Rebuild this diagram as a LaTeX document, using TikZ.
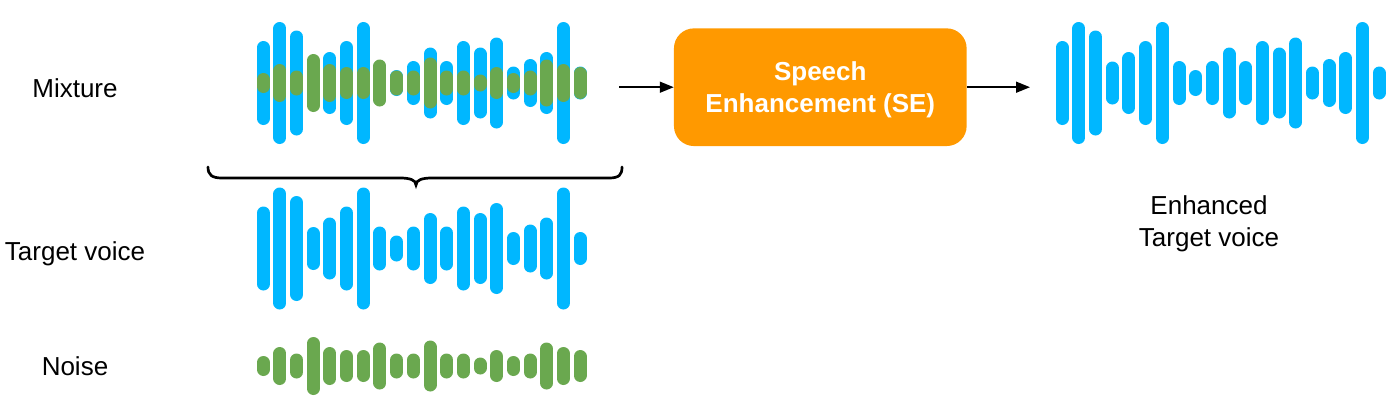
\documentclass[tikz,border=0pt]{standalone}
\usepackage{fontspec}
\setmainfont{Liberation Sans}
\usetikzlibrary{arrows.meta}
\definecolor{voiceblue}{RGB}{0,183,255}
\definecolor{noisegreen}{RGB}{106,168,79}
\definecolor{seorange}{RGB}{255,153,0}
% bar heights (px, caps included)
\newcommand{\voiceh}{84,122,105,43,62,84,122,44,26,44,71,44,84,71,91,33,48,62,122,33}
\newcommand{\noiseh}{20,38,25,58,38,32,32,47,25,25,51,25,25,17,32,20,25,47,38,32}
% #1 x of first bar, #2 y of middle, #3 heights, #4 style
\newcommand{\wave}[4]{%
  \foreach \h [count=\i from 0] in #3
    \draw[#4] ({#1+16.67*\i},{#2-(\h-13)/2}) -- ++(0,\h-13);}

\begin{document}
\begin{tikzpicture}[x=1pt,y=-1pt,
  bar/.style={line width=13pt,line cap=round},
  voicebar/.style={bar,voiceblue},
  noisebar/.style={bar,noisegreen},
  txt/.style={font=\fontsize{26}{32.4}\selectfont,inner sep=0pt},
  sebox/.style={fill=seorange,rounded corners=20pt,minimum width=292.7pt,
    minimum height=117.7pt,text=white,align=center,inner sep=0pt,text depth=0pt,
    font=\bfseries\fontsize{26}{31.7}\selectfont},
  flow/.style={line width=1.5pt,-{Triangle[length=14pt,width=11pt]}}]
\useasboundingbox (0,0) rectangle (1393,408);

\node[txt,anchor=base] (mix) at (75,97.3) {Mixture};
\node[txt,anchor=base] (target) at (75,260) {Target voice};
\node[txt,anchor=base] (noise) at (75,375) {Noise};
\node[txt,anchor=base,align=center] (enh) at (1209,246.7) {Enhanced\\Target voice};

% waveforms
\wave{263.3}{83}{\voiceh}{voicebar}
\wave{263.3}{83}{\noiseh}{noisebar}
\wave{263.3}{248.5}{\voiceh}{voicebar}
\wave{263.3}{366}{\noiseh}{noisebar}
\wave{1062.3}{83}{\voiceh}{voicebar}

% brace under the mixture
\draw[line width=2.7pt,line cap=round] (208,167) .. controls (208,175) and (212,178) .. (222,178)
  -- (400,178) .. controls (410,178) and (416,180) .. (416,185)
  .. controls (416,180) and (422,178) .. (432,178)
  -- (609,178) .. controls (619,178) and (622,175) .. (622,167);

% SE block
\node[sebox] (se) at (820.3,87.2) {Speech\\Enhancement (SE)};
\coordinate (in) at (619,87.2);
\coordinate (out) at (1030,87.2);
\draw[flow] (in) -- (se.west);
\draw[flow] (se.east) -- (out);
\end{tikzpicture}
\end{document}
